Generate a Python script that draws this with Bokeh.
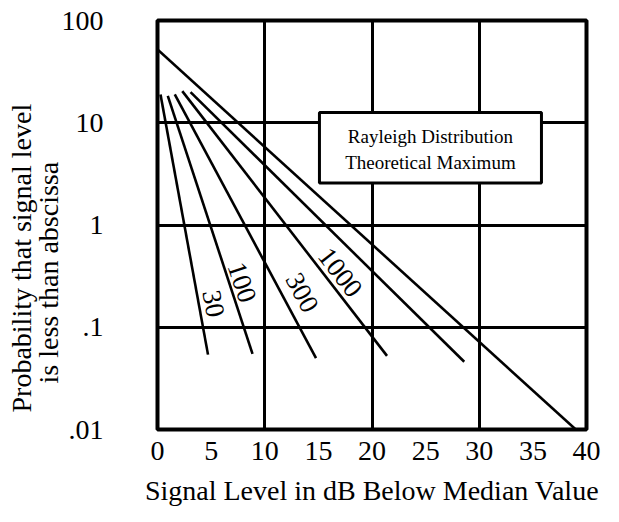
from bokeh.plotting import figure
from bokeh.models import Range1d, FixedTicker, Title
from bokeh.core.properties import value
from bokeh.embed import file_html
from bokeh.resources import INLINE
import math

FONT = "Liberation Serif"

# ---- data ----
x_ticks = [0, 5, 10, 15, 20, 25, 30, 35, 40]
y_ticks = [0.01, 0.1, 1, 10, 100]
y_tick_labels = [".01", ".1", "1", "10", "100"]

rayleigh_x = [0, 39]
rayleigh_y = [52, 0.01]

curve_names = ["30", "100", "300", "1000", ""]
curve_x0 = [0.28, 0.96, 1.61, 2.31, 3.08]
curve_y0 = [18.9, 18.3, 18.9, 20.4, 19.9]
curve_x1 = [4.71, 8.86, 14.78, 21.4, 28.6]
curve_y1 = [0.054, 0.055, 0.050, 0.0525, 0.046]

# label anchor points (data) and rotation (degrees) for curve labels
label_x = [5.22, 7.9, 13.49, 17.06]
label_y = [0.17, 0.275, 0.219, 0.344]
label_deg = [-79.6, -71.7, -61.7, -52.2]

box_left, box_right, box_top, box_bottom = 15.1, 35.8, 12.6, 2.57
box_lines = ["Rayleigh Distribution", "Theoretical Maximum"]
box_text_y = [7.38, 4.1]

x_title = "Signal Level in dB Below Median Value"
y_title_lines = ["Probability that signal level", "is less than abscissa"]

p = figure(width=611, height=522, output_backend="svg", toolbar_location=None,
           x_range=Range1d(0, 40), y_range=Range1d(0.01, 100), y_axis_type="log",
           min_border_left=157, min_border_right=25, min_border_top=20, min_border_bottom=93)

p.background_fill_color = "white"
p.border_fill_color = "white"
p.outline_line_color = "black"
p.outline_line_width = 4

# grids
p.xgrid.ticker = FixedTicker(ticks=[10, 20, 30])
p.ygrid.ticker = FixedTicker(ticks=[0.1, 1, 10])
for g in (p.xgrid, p.ygrid):
    g.grid_line_color = "black"
    g.grid_line_width = 3
    g.grid_line_alpha = 1.0

# axes
p.xaxis.ticker = FixedTicker(ticks=x_ticks)
p.yaxis.ticker = FixedTicker(ticks=y_ticks)
p.yaxis.major_label_overrides = {t: s for t, s in zip(y_ticks, y_tick_labels)}
for ax in (p.xaxis, p.yaxis):
    ax.axis_line_color = None
    ax.major_tick_line_color = None
    ax.minor_tick_line_color = None
    ax.major_label_text_font = FONT
    ax.major_label_text_font_size = "28px"
    ax.major_label_text_color = "black"
p.yaxis.major_label_standoff = 48
p.xaxis.major_label_standoff = 6

# Rayleigh line and curves
p.line(rayleigh_x, rayleigh_y, line_color="black", line_width=2.6)
for x0, y0, x1, y1 in zip(curve_x0, curve_y0, curve_x1, curve_y1):
    p.line([x0, x1], [y0, y1], line_color="black", line_width=2.6)

# box
p.quad(left=[box_left], right=[box_right], top=[box_top], bottom=[box_bottom],
       fill_color="white", line_color="black", line_width=3)
p.text(x=[(box_left + box_right) / 2] * 2, y=box_text_y, text=box_lines,
       text_font=value(FONT), text_font_size="19px", text_color="black",
       text_align="center", text_baseline="middle")

# curve labels
p.text(x=label_x, y=label_y, text=curve_names[:4],
       angle=[math.radians(d) for d in label_deg],
       text_font=value(FONT), text_font_size="27px", text_color="black",
       text_align="center", text_baseline="middle")

# axis titles (as Titles so they can be positioned)
p.add_layout(Title(text=x_title, align="center", standoff=20,
                   text_font=FONT, text_font_size="28px", text_font_style="normal",
                   text_color="black"), "below")
p.add_layout(Title(text=y_title_lines[1], align="left", offset=46, standoff=-10,
                   text_font=FONT, text_font_size="28px", text_font_style="normal",
                   text_color="black"), "left")
p.add_layout(Title(text=y_title_lines[0], align="left", offset=17, standoff=-2,
                   text_font=FONT, text_font_size="28px", text_font_style="normal",
                   text_color="black"), "left")

open("out.html", "w").write(file_html(p, INLINE))
